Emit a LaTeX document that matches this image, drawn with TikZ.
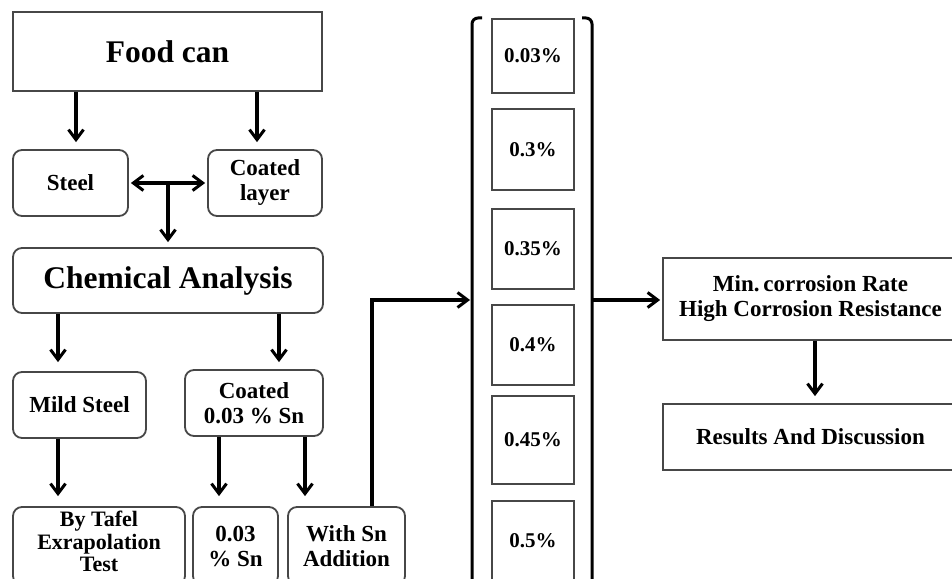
\documentclass[tikz,border=0pt]{standalone}
\usepackage{fontspec}
\setmainfont{Liberation Serif}
\usetikzlibrary{arrows.meta,calc}
\begin{document}
\begin{tikzpicture}[x=1pt,y=-1pt,
  box/.style={draw=black!72,line width=1.8pt,fill=white,inner sep=0pt,align=center,font=\bfseries\fontsize{23}{25}\selectfont},
  rbox/.style={box,rounded corners=9pt},
  pbox/.style={box,minimum width=82pt,font=\bfseries\fontsize{21}{24}\selectfont},
  bigtext/.style={font=\bfseries\fontsize{31.5}{36}\selectfont},
  tip/.tip={Straight Barb[length=10pt,width=15pt,line width=3pt]},
  arr/.style={line width=3.2pt,-tip,shorten >=2pt},
  arrtwo/.style={line width=3.2pt,tip-tip,shorten >=2pt,shorten <=2pt},
  bracket/.style={line width=3pt,rounded corners=6pt}]
\clip (0,0) rectangle (952,578);
\fill[white] (0,0) rectangle (952,578);
% left column
\node[box,bigtext,minimum width=309pt,minimum height=79pt] (food) at (167.5,51.5) {Food can};
\node[rbox,minimum width=115pt,minimum height=66pt] (steel) at (70.5,183) {Steel};
\node[rbox,minimum width=114pt,minimum height=66pt] (coated) at (265,183) {Coated\\layer};
\node[rbox,bigtext,minimum width=310pt,minimum height=65pt] (chem) at (168,280.5) {Chemical Analysis};
\node[rbox,minimum width=133pt,minimum height=66pt] (mild) at (79.5,405) {Mild Steel};
\node[rbox,minimum width=138pt,minimum height=66pt] (coat03) at (254,403) {Coated\\0.03 \% Sn};
\node[rbox,minimum width=172pt,minimum height=78pt] (tafel) at (99,546) {};
\node[font=\bfseries\fontsize{22}{22.5}\selectfont,align=center,inner sep=0pt] (tafeltext) at (99,541.5) {By Tafel\\Exrapolation\\Test};
\node[rbox,minimum width=85pt,minimum height=78pt] (sn03) at (235.5,546) {0.03\\\% Sn};
\node[rbox,minimum width=117pt,minimum height=78pt] (withsn) at (346.5,546) {With Sn\\Addition};
% bracket column
\node[pbox,minimum height=74pt] (p1) at (533,56) {0.03\%};
\node[pbox,minimum height=81pt] (p2) at (533,149.5) {0.3\%};
\node[pbox,minimum height=80pt] (p3) at (533,249) {0.35\%};
\node[pbox,minimum height=80pt] (p4) at (533,345) {0.4\%};
\node[pbox,minimum height=88pt] (p5) at (533,440) {0.45\%};
\node[pbox,minimum height=80pt] (p6) at (533,541) {0.5\%};
\draw[bracket] (482,18) -- (472,18) -- (472,600);
\draw[bracket] (582,18) -- (592,18) -- (592,600);
\coordinate (bl) at (472,300);
\coordinate (br) at (592,300);
% right column
\node[box,minimum width=295pt,minimum height=82pt] (minr) at (810.5,299) {Min.\,corrosion Rate\\High Corrosion Resistance};
\node[box,minimum width=295pt,minimum height=66pt] (res) at (810.5,437) {Results And Discussion};
% connectors
\draw[arr,shorten >=7pt] ([xshift=5.5pt]steel.north |- food.south) -- ([xshift=5.5pt]steel.north);
\draw[arr,shorten >=7pt] ([xshift=-8pt]coated.north |- food.south) -- ([xshift=-8pt]coated.north);
\draw[arrtwo] (steel.east) -- (coated.west);
\coordinate (mid) at ($(steel.east)!0.5!(coated.west)$);
\draw[arr,shorten >=5pt] (mid) -- (mid |- chem.north);
\draw[arr,shorten >=9pt] ([xshift=-21.5pt]mild.north |- chem.south) -- ([xshift=-21.5pt]mild.north);
\draw[arr,shorten >=7pt] ([xshift=25pt]coat03.north |- chem.south) -- ([xshift=25pt]coat03.north);
\draw[arr,shorten >=10pt] ([xshift=-21.5pt]mild.south) -- ([xshift=-21.5pt]mild.south |- tafel.north);
\draw[arr,shorten >=10pt] ([xshift=-35pt]coat03.south) -- ([xshift=-35pt]coat03.south |- sn03.north);
\draw[arr,shorten >=10pt] ([xshift=51pt]coat03.south) -- ([xshift=51pt]coat03.south |- withsn.north);
\draw[arr] ([xshift=25.5pt]withsn.north) |- (bl);
\draw[arr] (br) -- (br -| minr.west);
\draw[arr,shorten >=7pt] ([xshift=4.5pt]minr.south) -- ([xshift=4.5pt]minr.south |- res.north);
\end{tikzpicture}
\end{document}
